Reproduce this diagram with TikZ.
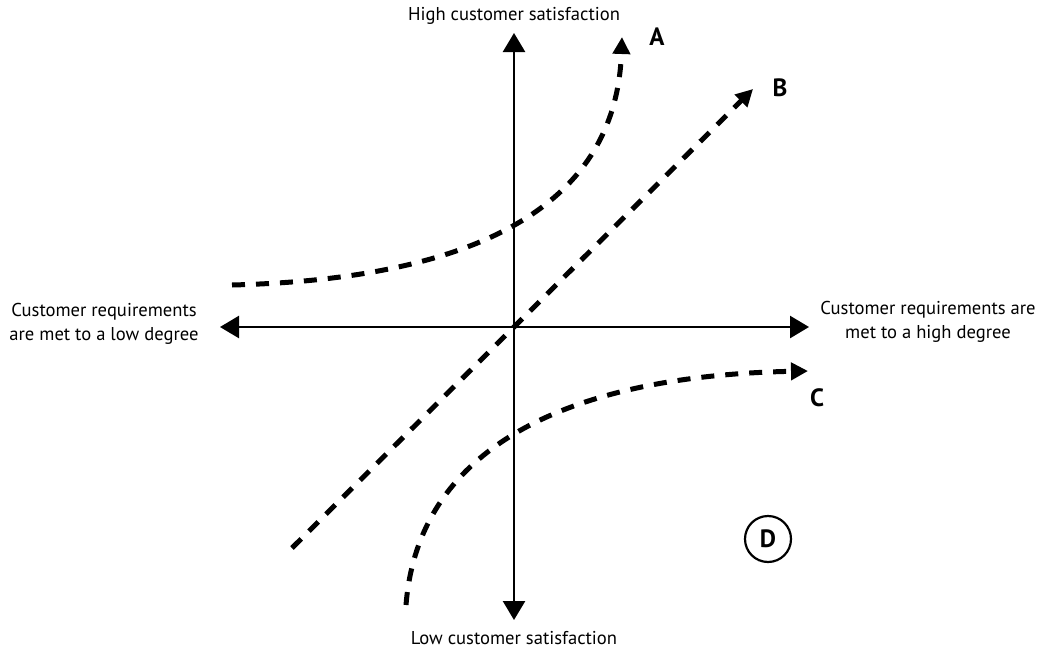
\documentclass[tikz,border=0pt]{standalone}
\usepackage{fontspec}
\setmainfont{PT Sans}
\usetikzlibrary{arrows.meta,positioning}

\begin{document}
\begin{tikzpicture}[x=1pt,y=-1pt,
    axis/.style={line width=2.6pt,
      {Triangle[length=19pt,width=22pt]}-{Triangle[length=19pt,width=22pt]}},
    trend/.style={line width=5pt,dash pattern=on 13pt off 11pt,
      -{Triangle[length=17pt,width=17pt]}},
    lab/.style={font=\fontsize{18.6}{24.5}\selectfont,align=center},
    tag/.style={font=\fontsize{25}{29}\selectfont\bfseries}]
  \useasboundingbox (0,0) rectangle (1041,653);
  % axes
  \coordinate (west)  at (220,327);
  \coordinate (east)  at (809,327);
  \coordinate (north) at (514,33);
  \coordinate (south) at (514,620);
  \draw[axis] (west) -- (east);
  \draw[axis] (south) -- (north);
  \node[lab] (hisat)  at (514,16)  {High customer satisfaction};
  \node[lab] (losat)  at (514,638) {Low customer satisfaction};
  \node[lab] (lowdeg) at (104,324) {Customer requirements\\are met to a low degree};
  \node[lab] (hideg)  at (928,322) {Customer requirements are\\met to a high degree};
  % trends
  \coordinate (a0) at (232,285);
  \coordinate (a1) at (622,37);
  \coordinate (b0) at (292,548);
  \coordinate (b1) at (753,89);
  \coordinate (c0) at (406,605);
  \coordinate (c1) at (808,371);
  \draw[trend] (a0) .. controls (430,280) and (615,230) .. (a1);
  \draw[trend] (b0) -- (b1);
  \draw[trend] (c0) .. controls (420,430) and (600,375) .. (c1);
  \node[tag] (tagA) at (657,37)  {A};
  \node[tag] (tagB) at (780,88)  {B};
  \node[tag] (tagC) at (817,398) {C};
  \node[tag,draw,circle,line width=2.2pt,minimum size=46pt,inner sep=0pt]
    (tagD) at (768,539) {D};
\end{tikzpicture}
\end{document}
